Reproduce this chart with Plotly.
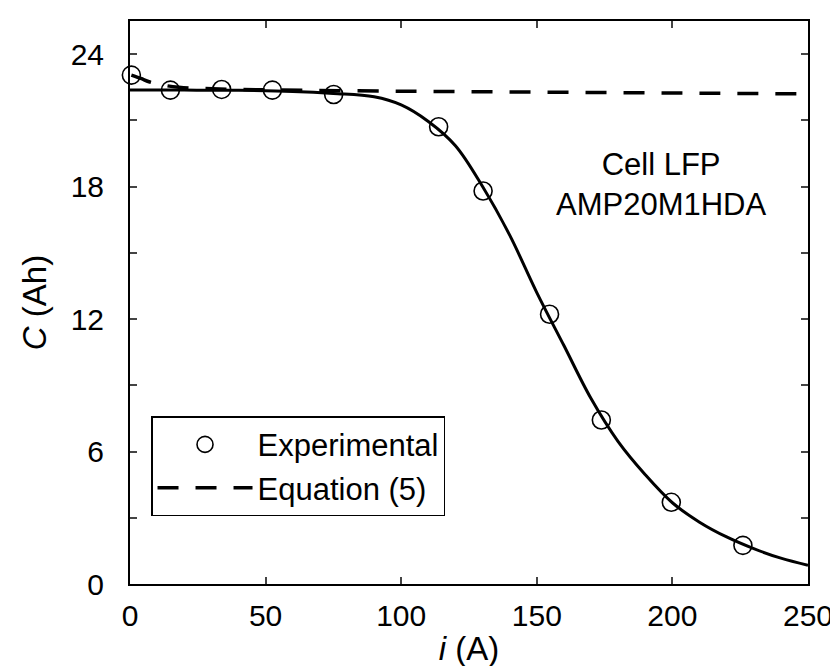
import plotly.graph_objects as go

# Experimental points
exp_i = [0.5, 14.9, 33.8, 52.5, 75.1, 113.8, 130.2, 154.7, 173.8, 199.6, 226.0]
exp_c = [23.05, 22.37, 22.40, 22.37, 22.17, 20.71, 17.80, 12.22, 7.43, 3.70, 1.75]

# Equation (5) (dashed)
eq_i = [0.5, 4, 7, 12, 18, 25, 50, 100, 150, 200, 250]
eq_c = [23.05, 22.9, 22.75, 22.6, 22.5, 22.45, 22.38, 22.32, 22.28, 22.24, 22.2]

# Fit curve (solid)
fit_i = [0, 20, 40, 60, 75, 90, 100, 110, 120, 130, 140, 150, 160, 170, 180, 190,
         200, 210, 220, 230, 240, 250]
fit_c = [22.37, 22.37, 22.36, 22.31, 22.22, 22.07, 21.7, 20.95, 19.85, 18.0, 15.8,
         13.2, 10.8, 8.4, 6.45, 4.95, 3.68, 2.8, 2.13, 1.6, 1.17, 0.85]

x_ticks = [0, 50, 100, 150, 200, 250]
y_ticks = [0, 6, 12, 18, 24]
y_minor = [3, 9, 15, 21]

FONT = "Liberation Sans, Arial, sans-serif"

fig = go.Figure()
fig.add_trace(go.Scatter(x=fit_i, y=fit_c, mode="lines", line=dict(color="black", width=3, shape="spline"),
                         showlegend=False, hoverinfo="skip"))
fig.add_trace(go.Scatter(x=eq_i, y=eq_c, mode="lines", name="Equation (5)",
                         line=dict(color="black", width=3.5, dash="21px,17px", shape="spline")))
fig.add_trace(go.Scatter(x=exp_i, y=exp_c, mode="markers", name="Experimental",
                         marker=dict(symbol="circle-open", size=18, color="black", line=dict(width=1.6)),
                         cliponaxis=False))

fig.update_layout(
    template="none",
    width=838, height=666,
    margin=dict(l=122, r=38, t=13, b=90, autoexpand=False),
    paper_bgcolor="white", plot_bgcolor="white",
    font=dict(family=FONT, size=30, color="black"),
    showlegend=True,
    legend=dict(x=0.031, y=0.298, xanchor="left", yanchor="top",
                bordercolor="black", borderwidth=1.5, bgcolor="white",
                font=dict(size=31), itemwidth=95, traceorder="reversed",
                tracegroupgap=0),
    xaxis=dict(range=[0, 250], tickvals=x_ticks, ticks="inside", ticklen=7, tickwidth=1.5,
               showline=True, linecolor="black", linewidth=2, mirror="ticks",
               showgrid=False, zeroline=False, automargin=False, ticklabelstandoff=4,
               title=dict(text="<i>i</i> (A)", font=dict(size=33), standoff=6)),
    yaxis=dict(range=[0, 25.5], tickvals=y_ticks, ticks="inside", ticklen=7, tickwidth=1.5,
               minor=dict(tickvals=y_minor, ticks="inside", ticklen=7, tickwidth=1.5),
               showline=True, linecolor="black", linewidth=2, mirror="ticks",
               showgrid=False, zeroline=False, ticklabelstandoff=18, automargin=False,
               title=dict(text="<i>C</i> (Ah)", font=dict(size=33), standoff=14)),
    annotations=[dict(x=195.8, y=18.1, xref="x", yref="y", showarrow=False,
                      text="Cell LFP<br>AMP20M1HDA", font=dict(size=31), align="center")],
)

fig.write_html("out.html")
